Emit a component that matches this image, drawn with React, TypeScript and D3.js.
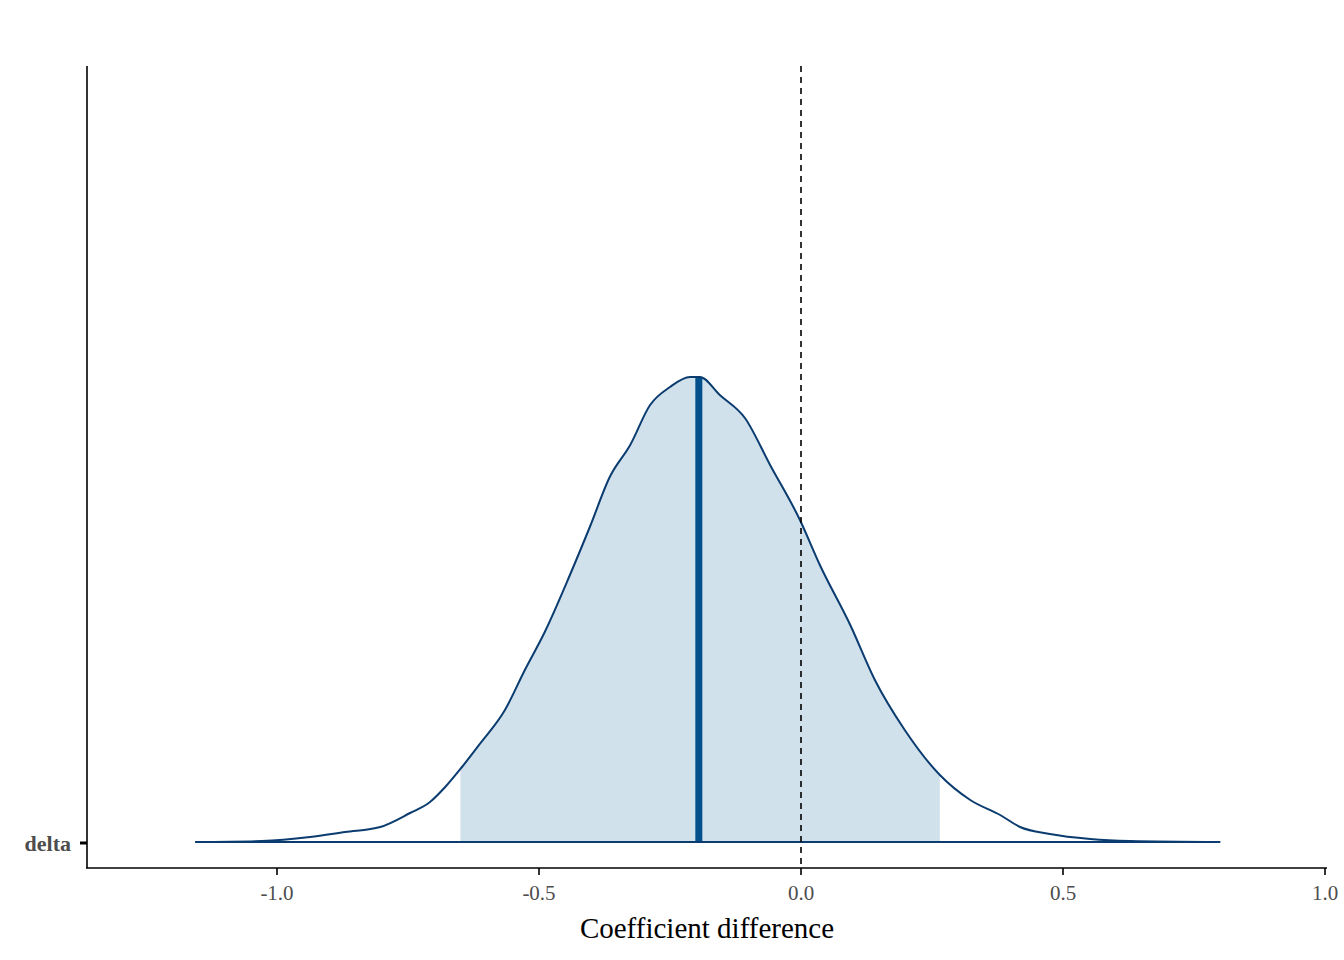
import React from "react";
import * as d3 from "d3";

const xs = [-1.156,-1.029,-0.937,-0.870,-0.803,-0.746,-0.708,-0.679,-0.647,-0.613,-0.565,-0.527,-0.489,-0.441,-0.403,-0.365,-0.326,-0.288,-0.250,-0.212,-0.193,-0.155,-0.107,-0.059,-0.002,0.036,0.094,0.141,0.198,0.265,0.323,0.380,0.418,0.475,0.552,0.628,0.800];
const dens = [0,1,5,10,15,29,40,55,75,98,132,172,210,267,315,365,397,437,455,465,465,447,424,377,322,277,217,162,112,67,42,27,15,8,3,1,0];
const xTicks = [-1.0,-0.5,0.0,0.5,1.0];
const intervalLo = -0.65, intervalHi = 0.265, median = -0.195;
const category = "delta";

export default function App() {
  const W = 1344, H = 960;
  const x = d3.scaleLinear().domain([-1, 1]).range([277, 1325]);
  const y = d3.scaleLinear().domain([0, 465]).range([842, 377]);
  const pts = xs.map((v, i) => [v, dens[i]] as [number, number]);
  const area = d3.area<[number, number]>().x(d => x(d[0])).y0(y(0)).y1(d => y(d[1])).curve(d3.curveMonotoneX);
  const line = d3.line<[number, number]>().x(d => x(d[0])).y(d => y(d[1])).curve(d3.curveMonotoneX);
  // median height via interpolation
  const i = xs.findIndex(v => v >= median);
  const t = (median - xs[i - 1]) / (xs[i] - xs[i - 1]);
  const mh = dens[i - 1] + t * (dens[i] - dens[i - 1]);
  const font = "'Liberation Serif', 'Times New Roman', serif";
  return (
    <svg width={W} height={H} style={{ position: "absolute", left: 0, top: 0 }} fontFamily={font}>
      <defs>
        <clipPath id="ci">
          <rect x={x(intervalLo)} y={0} width={x(intervalHi) - x(intervalLo)} height={H} />
        </clipPath>
      </defs>
      <path d={area(pts)!} fill="#d1e1ec" clipPath="url(#ci)" />
      <line x1={x(median)} x2={x(median)} y1={y(0)} y2={y(mh)} stroke="#03508c" strokeWidth={7} />
      <path d={line(pts)!} fill="none" stroke="#0b3c70" strokeWidth={2} />
      <line x1={x(xs[0])} x2={x(xs[xs.length - 1])} y1={y(0)} y2={y(0)} stroke="#0b3c70" strokeWidth={2} />
      <line x1={x(0)} x2={x(0)} y1={66} y2={868} stroke="#000" strokeWidth={1.6} strokeDasharray="6,5" />
      <line x1={87} x2={87} y1={66} y2={868} stroke="#000" strokeWidth={1.6} />
      <line x1={86} x2={1327} y1={868} y2={868} stroke="#000" strokeWidth={1.6} />
      <line x1={80} x2={87} y1={843} y2={843} stroke="#000" strokeWidth={3} />
      <text x={71} y={851} textAnchor="end" fontSize={22} fontWeight="bold" fill="#4d4d4d">{category}</text>
      {xTicks.map(v => (
        <g key={v}>
          <line x1={x(v)} x2={x(v)} y1={868} y2={875} stroke="#000" strokeWidth={1.6} />
          <text x={x(v)} y={900} textAnchor="middle" fontSize={21} fill="#4d4d4d">{v.toFixed(1)}</text>
        </g>
      ))}
      <text x={707} y={938} textAnchor="middle" fontSize={29} fill="#000">Coefficient difference</text>
    </svg>
  );
}
